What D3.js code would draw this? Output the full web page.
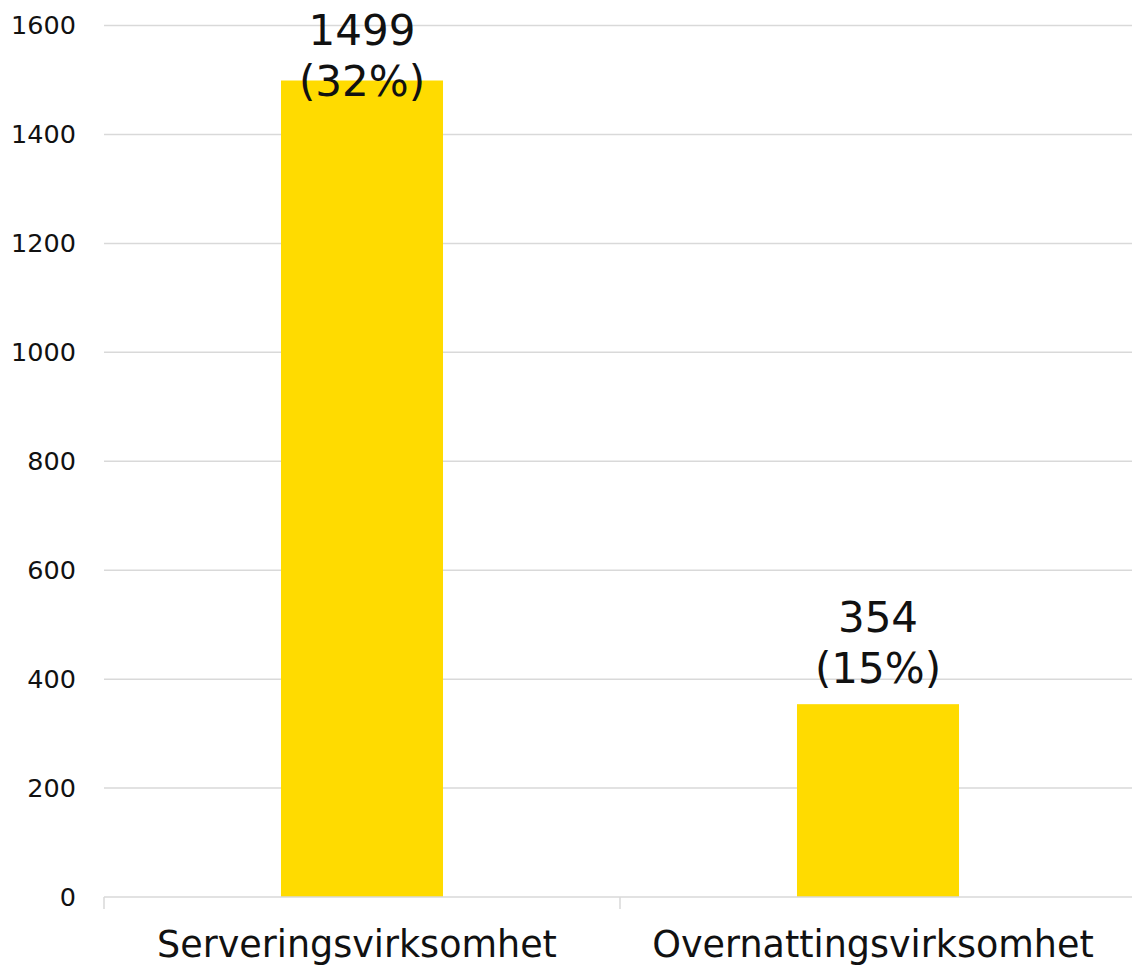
<!DOCTYPE html>
<html>
<head>
<meta charset="utf-8">
<script src="https://cdn.jsdelivr.net/npm/d3@7"></script>
<style>
  html, body { margin: 0; padding: 0; background: #ffffff; }
  svg { display: block; }
  svg text { font-family: "DejaVu Sans", Verdana, sans-serif; }
</style>
</head>
<body>
<svg id="chart" width="1132" height="969"></svg>
<script>
// Chart data
const categories = ["Serveringsvirksomhet", "Overnattingsvirksomhet"];
const counts = [1499, 354];
const shares = ["32%", "15%"];
const yTicks = [0, 200, 400, 600, 800, 1000, 1200, 1400, 1600];

const width = 1132, height = 969;
const margin = { top: 25.5, right: -4, bottom: 72, left: 104 };
const plotW = width - margin.left - margin.right;
const plotH = height - margin.top - margin.bottom;

const svg = d3.select("#chart");
const g = svg.append("g").attr("transform", `translate(${margin.left},${margin.top})`);

const x = d3.scaleBand().domain(categories).range([0, plotW]).padding(0);
const y = d3.scaleLinear().domain([0, 1600]).range([plotH, 0]);
const barW = x.bandwidth() * 0.314;

// Horizontal gridlines
g.append("g").selectAll("line")
  .data(yTicks.filter(d => d > 0))
  .join("line")
  .attr("x1", 0).attr("x2", plotW + 40)
  .attr("y1", d => y(d)).attr("y2", d => y(d))
  .attr("stroke", "#d9d9d9").attr("stroke-width", 1.5);

// Y axis labels
const yAxis = d3.axisLeft(y).tickValues(yTicks).tickSize(0).tickPadding(28).tickFormat(d3.format("d"));
g.append("g").call(yAxis)
  .attr("font-family", null).attr("font-size", null)
  .call(s => s.select(".domain").remove())
  .selectAll("text")
  .attr("font-size", 25.5).attr("fill", "#111");

// Bars
g.append("g").selectAll("rect")
  .data(categories)
  .join("rect")
  .attr("x", (d) => x(d) + (x.bandwidth() - barW) / 2)
  .attr("width", barW)
  .attr("y", (d, i) => y(counts[i]))
  .attr("height", (d, i) => plotH - y(counts[i]))
  .attr("fill", "#ffdb00");

// X axis baseline with category separators
const xAxisG = g.append("g").attr("transform", `translate(0,${plotH})`);
xAxisG.append("line")
  .attr("x1", 0).attr("x2", plotW + 40)
  .attr("stroke", "#d9d9d9").attr("stroke-width", 1.5);
xAxisG.selectAll("line.sep")
  .data(categories)
  .join("line")
  .attr("class", "sep")
  .attr("x1", d => x(d)).attr("x2", d => x(d))
  .attr("y1", 0).attr("y2", 12)
  .attr("stroke", "#d9d9d9").attr("stroke-width", 1.5);
xAxisG.selectAll("text")
  .data(categories)
  .join("text")
  .attr("x", d => x(d) + x.bandwidth() / 2 - 5)
  .attr("y", 60)
  .attr("text-anchor", "middle")
  .attr("font-size", 36.5)
  .attr("fill", "#111")
  .text(d => d);

// Value labels above bars, kept inside the plot area
const labels = g.append("g").selectAll("text")
  .data(categories)
  .join("text")
  .attr("text-anchor", "middle")
  .attr("font-size", 42)
  .attr("fill", "#111");
labels.each(function (d, i) {
  const cx = x(d) + x.bandwidth() / 2;
  const firstBase = Math.max(y(counts[i]) - 72, 19);
  const t = d3.select(this);
  t.append("tspan").attr("x", cx).attr("y", firstBase).text(counts[i]);
  t.append("tspan").attr("x", cx).attr("y", firstBase + 51).text(`(${shares[i]})`);
});
</script>
</body>
</html>
